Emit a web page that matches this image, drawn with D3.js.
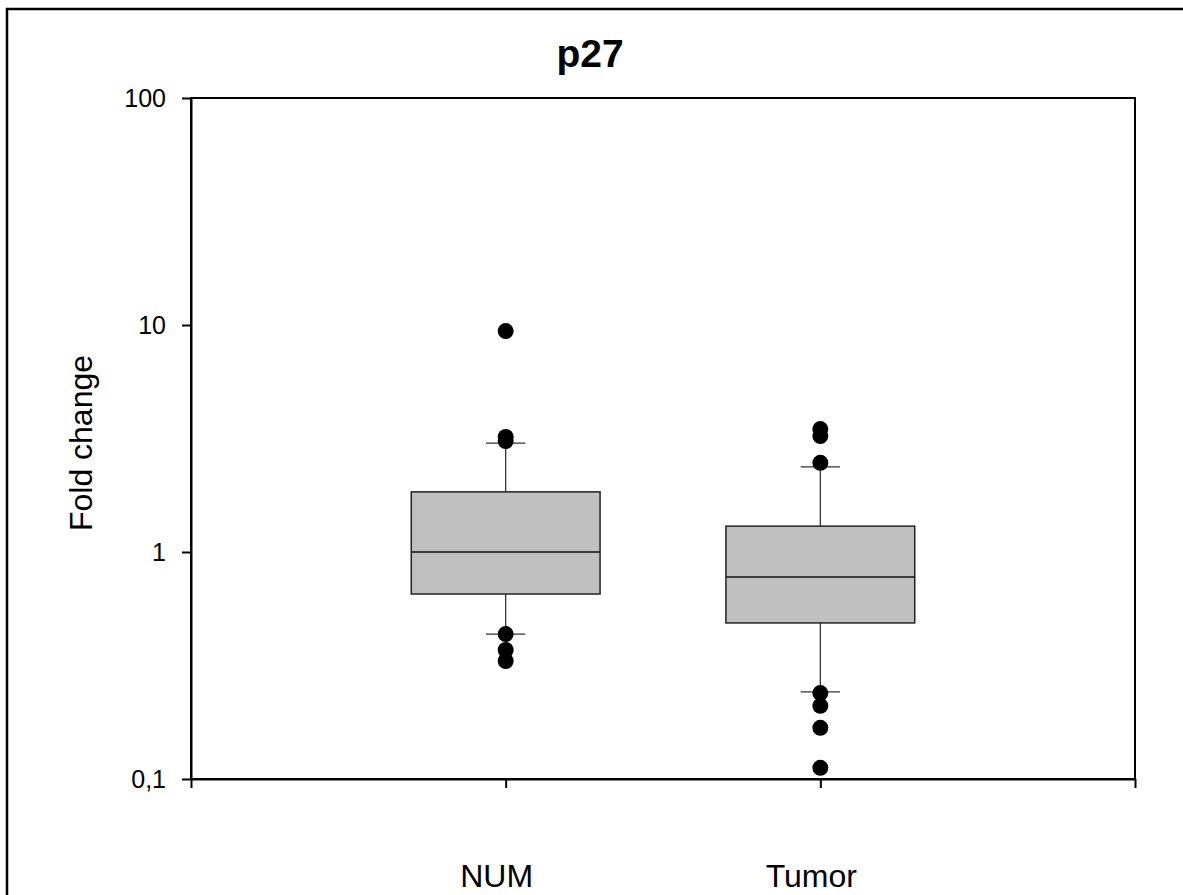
<!DOCTYPE html>
<html lang="en">
<head>
    <meta charset="UTF-8">
    <title>p27</title>
    <style>
        body { margin: 0; background: #fff; }
        svg { display: block; font-family: "Liberation Sans", Arial, sans-serif; }
    </style>
</head>
<body>
    <div id="chart"></div>
    <script src="https://d3js.org/d3.v7.min.js"></script>
    <script>
        // Box plot data (fold change, log scale)
        var categories = ["NUM", "Tumor"];
        var q1 = [0.653, 0.487];
        var median = [1.0, 0.776];
        var q3 = [1.84, 1.30];
        var whiskerLow = [0.435, 0.242];
        var whiskerHigh = [3.02, 2.37];
        var outliers = [
            [9.4, 3.21, 3.08, 0.435, 0.370, 0.331],
            [3.48, 3.24, 2.47, 0.239, 0.210, 0.168, 0.112]
        ];
        var yTicks = [0.1, 1, 10, 100];
        var yTickLabels = ["0,1", "1", "10", "100"];

        var width = 1183, height = 895;
        var plotLeft = 191, plotRight = 1135, plotTop = 98, plotBottom = 779;

        var svg = d3.select("#chart")
                    .append("svg")
                    .attr("width", width)
                    .attr("height", height);

        // outer frame (right/bottom edges fall off the page)
        svg.append("rect")
           .attr("x", 7).attr("y", 9)
           .attr("width", 1200).attr("height", 900)
           .attr("fill", "none")
           .attr("stroke", "#000")
           .attr("stroke-width", 2.5);

        var x = d3.scaleLinear().domain([0, categories.length + 1]).range([plotLeft, plotRight]);
        var y = d3.scaleLog().domain([0.1, 100]).range([plotBottom, plotTop]);

        // plot frame
        svg.append("rect")
           .attr("x", plotLeft).attr("y", plotTop)
           .attr("width", plotRight - plotLeft).attr("height", plotBottom - plotTop)
           .attr("fill", "none")
           .attr("stroke", "#000")
           .attr("stroke-width", 2);

        // y axis
        var yAxis = svg.append("g")
           .attr("transform", "translate(" + plotLeft + ",0)")
           .call(d3.axisLeft(y).tickValues(yTicks)
                 .tickFormat(function(d, i) { return yTickLabels[i]; })
                 .tickSize(9).tickSizeOuter(0).tickPadding(16));
        yAxis.select(".domain").attr("stroke-width", 2);
        yAxis.selectAll(".tick line").attr("stroke-width", 2);
        yAxis.selectAll("text").attr("font-size", 25).attr("fill", "#000")
             .attr("font-family", "'Liberation Sans', Arial, sans-serif");

        // x axis
        var xAxis = svg.append("g")
           .attr("transform", "translate(0," + plotBottom + ")")
           .call(d3.axisBottom(x).tickValues(d3.range(0, categories.length + 2))
                 .tickFormat("").tickSize(9).tickSizeOuter(0));
        xAxis.select(".domain").attr("stroke-width", 2);
        xAxis.selectAll(".tick line").attr("stroke-width", 2);

        // category labels
        svg.selectAll(".cat")
           .data(categories)
           .enter()
           .append("text")
           .attr("class", "cat")
           .attr("x", function(d, i) { return x(i + 1) - 9; })
           .attr("y", 887)
           .attr("text-anchor", "middle")
           .attr("font-size", 32)
           .text(function(d) { return d; });

        // title and y label
        svg.append("text")
           .attr("x", 590).attr("y", 67)
           .attr("text-anchor", "middle")
           .attr("font-size", 39)
           .attr("font-weight", "bold")
           .text("p27");

        svg.append("text")
           .attr("transform", "translate(92,443) rotate(-90)")
           .attr("text-anchor", "middle")
           .attr("font-size", 32)
           .text("Fold change");

        var boxHalf = 0.3, capHalf = 0.0625;

        var groups = svg.selectAll(".box")
           .data(categories)
           .enter()
           .append("g")
           .attr("class", "box");

        // whiskers
        groups.append("line")
           .attr("x1", function(d, i) { return x(i + 1); })
           .attr("x2", function(d, i) { return x(i + 1); })
           .attr("y1", function(d, i) { return y(whiskerHigh[i]); })
           .attr("y2", function(d, i) { return y(whiskerLow[i]); })
           .attr("stroke", "#333").attr("stroke-width", 1.3);

        [whiskerHigh, whiskerLow].forEach(function(arr) {
            groups.append("line")
               .attr("x1", function(d, i) { return x(i + 1 - capHalf); })
               .attr("x2", function(d, i) { return x(i + 1 + capHalf); })
               .attr("y1", function(d, i) { return y(arr[i]); })
               .attr("y2", function(d, i) { return y(arr[i]); })
               .attr("stroke", "#333").attr("stroke-width", 1.3);
        });

        // boxes
        groups.append("rect")
           .attr("x", function(d, i) { return x(i + 1 - boxHalf); })
           .attr("y", function(d, i) { return y(q3[i]); })
           .attr("width", function(d, i) { return x(i + 1 + boxHalf) - x(i + 1 - boxHalf); })
           .attr("height", function(d, i) { return y(q1[i]) - y(q3[i]); })
           .attr("fill", "#c0c0c0")
           .attr("stroke", "#222").attr("stroke-width", 1.5);

        groups.append("line")
           .attr("x1", function(d, i) { return x(i + 1 - boxHalf); })
           .attr("x2", function(d, i) { return x(i + 1 + boxHalf); })
           .attr("y1", function(d, i) { return y(median[i]); })
           .attr("y2", function(d, i) { return y(median[i]); })
           .attr("stroke", "#111").attr("stroke-width", 1.5);

        // outliers
        groups.each(function(d, i) {
            d3.select(this).selectAll("circle")
              .data(outliers[i])
              .enter()
              .append("circle")
              .attr("cx", x(i + 1))
              .attr("cy", function(v) { return y(v); })
              .attr("r", 8)
              .attr("fill", "#000");
        });
    </script>
</body>
</html>
